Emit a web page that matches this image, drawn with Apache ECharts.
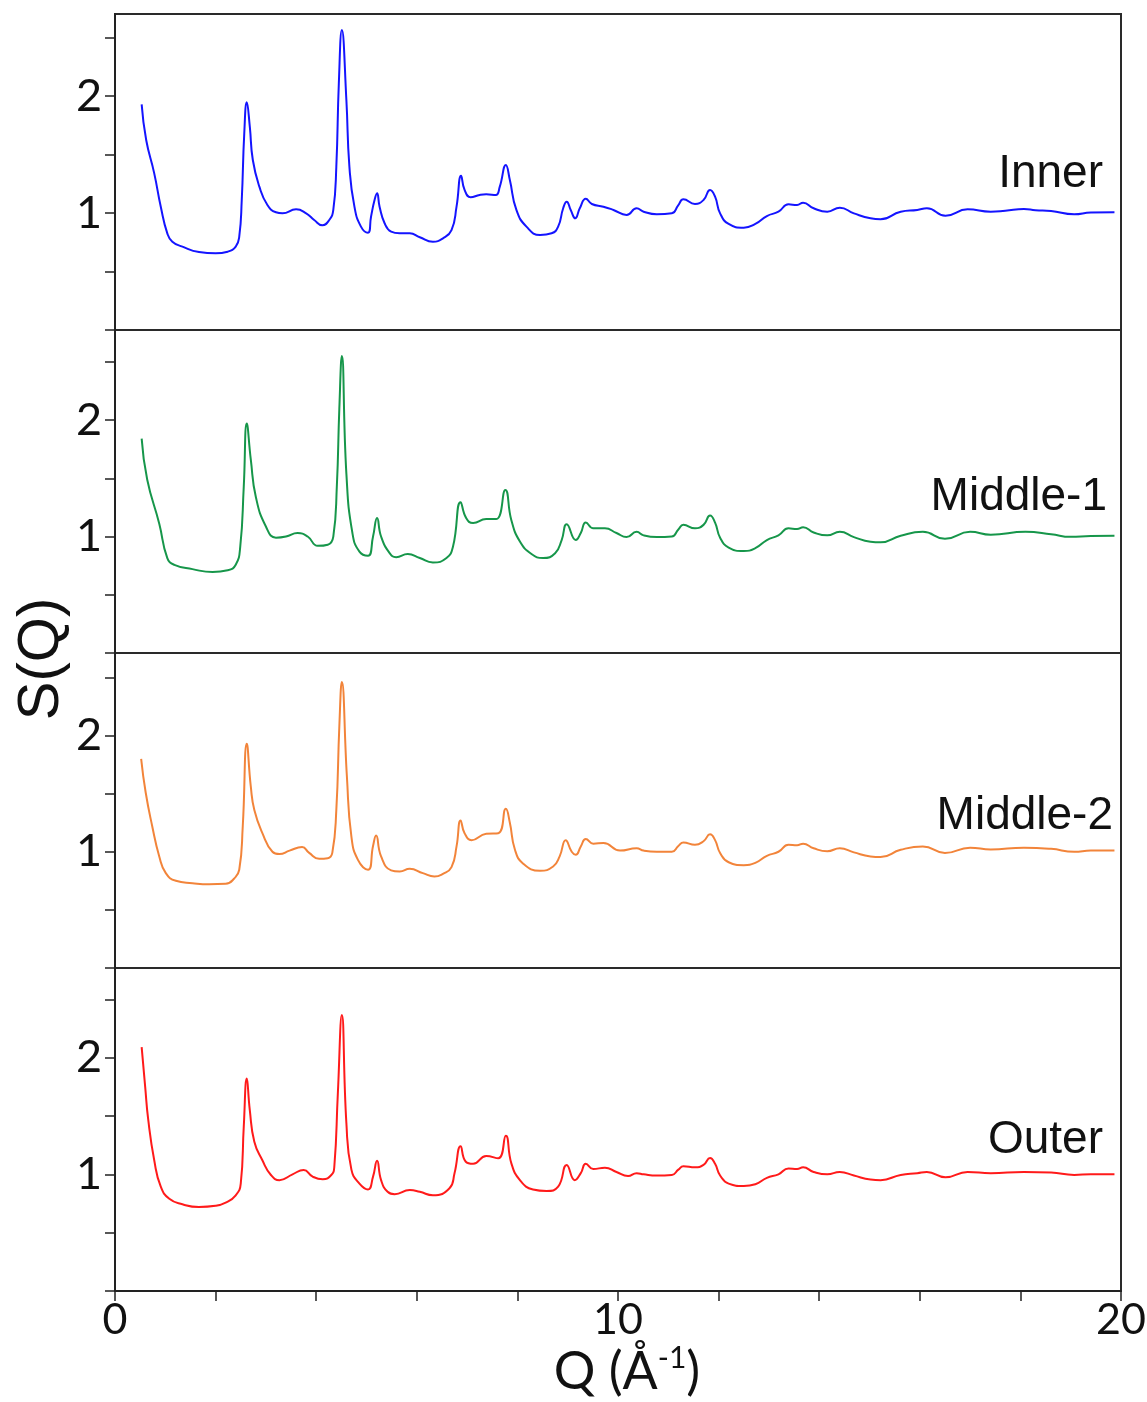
<!DOCTYPE html>
<html>
<head>
<meta charset="utf-8">
<script src="https://cdn.jsdelivr.net/npm/echarts@6/dist/echarts.min.js"></script>
<style>
html,body{margin:0;padding:0;background:#fff}
#main{width:1147px;height:1402px}
</style>
</head>
<body>
<div id="main"></div>
<script>
// S(Q), [Q, S(Q)]
var inner = [[0.53,1.93],[0.62,1.625],[0.78,1.34],[0.91,1.055],[1.04,0.827],[1.14,0.755],[1.34,0.713],[1.67,0.667],[2.0,0.656],[2.24,0.67],[2.40,0.713],[2.47,0.798],[2.52,1.112],[2.57,1.683],[2.62,1.948],[2.68,1.739],[2.74,1.454],[2.87,1.226],[3.03,1.069],[3.2,1.007],[3.33,0.998],[3.6,1.032],[3.8,0.998],[3.96,0.941],[4.12,0.896],[4.26,0.941],[4.34,1.027],[4.40,1.397],[4.45,2.11],[4.51,2.566],[4.60,1.967],[4.66,1.397],[4.76,1.055],[4.89,0.884],[5.03,0.832],[5.09,0.969],[5.16,1.112],[5.21,1.169],[5.26,1.055],[5.36,0.913],[5.49,0.841],[5.66,0.827],[5.86,0.827],[6.06,0.793],[6.32,0.755],[6.52,0.784],[6.69,0.855],[6.79,1.055],[6.88,1.32],[6.95,1.198],[7.07,1.135],[7.25,1.155],[7.38,1.161],[7.57,1.155],[7.65,1.226],[7.77,1.411],[7.85,1.283],[7.98,1.027],[8.18,0.884],[8.45,0.813],[8.68,0.827],[8.81,0.884],[8.91,1.041],[8.98,1.098],[9.06,1.027],[9.15,0.955],[9.24,1.041],[9.36,1.123],[9.48,1.078],[9.71,1.055],[9.91,1.027],[10.17,0.984],[10.37,1.041],[10.51,1.012],[10.77,0.99],[11.07,0.998],[11.2,1.069],[11.3,1.118],[11.53,1.078],[11.70,1.112],[11.83,1.198],[11.93,1.14],[12.03,0.998],[12.2,0.907],[12.5,0.875],[12.73,0.907],[12.96,0.975],[13.19,1.012],[13.39,1.075],[13.56,1.069],[13.68,1.089],[13.89,1.041],[14.16,1.012],[14.41,1.046],[14.69,0.998],[15.02,0.955],[15.22,0.947],[15.62,1.012],[15.95,1.027],[16.14,1.041],[16.51,0.978],[16.95,1.032],[17.41,1.012],[17.7,1.02],[18.07,1.035],[18.3,1.025],[18.61,1.018],[19.07,0.99],[19.4,1.005],[19.87,1.007]];

var middle1 = [[0.53,1.84],[0.64,1.49],[0.88,1.11],[1.04,0.815],[1.18,0.757],[1.54,0.72],[1.94,0.695],[2.24,0.71],[2.40,0.757],[2.49,0.914],[2.56,1.43],[2.62,1.97],[2.70,1.66],[2.80,1.34],[3.0,1.086],[3.2,0.99],[3.4,1.0],[3.63,1.03],[3.83,1.0],[4.03,0.92],[4.23,0.93],[4.34,1.0],[4.41,1.43],[4.46,2.1],[4.51,2.55],[4.60,1.54],[4.72,1.03],[4.86,0.87],[5.03,0.835],[5.13,1.0],[5.21,1.16],[5.29,1.0],[5.46,0.858],[5.59,0.823],[5.82,0.85],[6.06,0.815],[6.32,0.777],[6.59,0.815],[6.72,0.914],[6.87,1.295],[6.98,1.16],[7.12,1.115],[7.38,1.15],[7.58,1.15],[7.76,1.40],[7.88,1.14],[8.05,0.957],[8.28,0.85],[8.51,0.815],[8.75,0.857],[8.88,0.97],[8.98,1.106],[9.16,0.97],[9.26,1.03],[9.36,1.12],[9.51,1.07],[9.74,1.07],[9.97,1.03],[10.17,0.995],[10.37,1.04],[10.51,1.01],[10.77,0.995],[11.07,1.0],[11.2,1.06],[11.3,1.10],[11.53,1.07],[11.70,1.10],[11.83,1.18],[11.93,1.12],[12.03,0.99],[12.2,0.905],[12.5,0.875],[12.73,0.9],[12.96,0.97],[13.19,1.01],[13.39,1.07],[13.56,1.065],[13.68,1.08],[13.89,1.035],[14.16,1.01],[14.41,1.04],[14.69,0.995],[15.02,0.955],[15.22,0.95],[15.62,1.007],[16.06,1.04],[16.5,0.98],[17.0,1.04],[17.41,1.015],[18.1,1.04],[18.61,1.02],[19.0,0.997],[19.4,1.005],[19.87,1.006]];

var middle2 = [[0.52,1.80],[0.61,1.51],[0.74,1.22],[0.88,0.96],[1.01,0.816],[1.21,0.75],[1.54,0.73],[1.87,0.72],[2.2,0.724],[2.37,0.77],[2.47,0.845],[2.54,1.22],[2.62,1.93],[2.70,1.56],[2.77,1.36],[2.93,1.16],[3.13,1.0],[3.27,0.98],[3.47,1.01],[3.72,1.04],[3.86,0.99],[4.06,0.94],[4.23,0.945],[4.32,0.99],[4.40,1.36],[4.46,2.08],[4.51,2.46],[4.61,1.65],[4.70,1.13],[4.83,0.93],[5.03,0.845],[5.13,1.05],[5.19,1.14],[5.29,0.96],[5.49,0.84],[5.66,0.83],[5.86,0.853],[6.12,0.816],[6.35,0.787],[6.52,0.81],[6.69,0.868],[6.79,1.046],[6.87,1.27],[6.95,1.16],[7.09,1.10],[7.38,1.155],[7.62,1.16],[7.77,1.37],[7.85,1.25],[7.95,1.02],[8.11,0.90],[8.45,0.836],[8.71,0.873],[8.84,0.96],[8.96,1.10],[9.08,1.0],[9.16,0.974],[9.26,1.046],[9.36,1.11],[9.51,1.07],[9.71,1.075],[10.04,1.01],[10.37,1.03],[10.51,1.01],[10.77,1.0],[11.07,1.0],[11.2,1.05],[11.3,1.08],[11.53,1.06],[11.70,1.09],[11.83,1.15],[11.93,1.1],[12.03,0.99],[12.2,0.91],[12.5,0.885],[12.73,0.905],[12.96,0.965],[13.19,1.0],[13.39,1.06],[13.56,1.055],[13.68,1.07],[13.89,1.03],[14.16,1.005],[14.41,1.03],[14.69,0.995],[15.02,0.96],[15.22,0.955],[15.62,1.017],[16.06,1.046],[16.5,0.99],[17.0,1.035],[17.41,1.02],[18.07,1.035],[18.61,1.025],[19.07,1.0],[19.4,1.01],[19.87,1.01]];

var outer = [[0.53,2.09],[0.60,1.75],[0.66,1.47],[0.78,1.12],[0.91,0.894],[1.08,0.79],[1.34,0.743],[1.67,0.72],[2.0,0.73],[2.2,0.757],[2.40,0.82],[2.50,0.92],[2.56,1.41],[2.62,1.82],[2.68,1.55],[2.77,1.28],[2.93,1.12],[3.10,0.994],[3.27,0.95],[3.53,1.0],[3.75,1.037],[3.93,0.98],[4.13,0.957],[4.30,0.994],[4.36,1.065],[4.43,1.69],[4.51,2.365],[4.60,1.44],[4.70,1.04],[4.86,0.92],[5.03,0.87],[5.13,0.98],[5.21,1.117],[5.29,0.95],[5.42,0.85],[5.56,0.83],[5.86,0.865],[6.06,0.85],[6.32,0.82],[6.65,0.88],[6.75,1.01],[6.87,1.24],[6.97,1.11],[7.12,1.09],[7.38,1.157],[7.62,1.137],[7.77,1.33],[7.88,1.094],[8.05,0.95],[8.31,0.87],[8.58,0.857],[8.81,0.894],[8.98,1.08],[9.14,0.95],[9.26,1.01],[9.36,1.09],[9.51,1.045],[9.74,1.057],[9.97,1.02],[10.2,0.985],[10.37,1.01],[10.51,1.0],[10.77,0.99],[11.07,0.995],[11.2,1.04],[11.3,1.07],[11.53,1.06],[11.70,1.08],[11.83,1.14],[11.93,1.09],[12.03,0.99],[12.2,0.92],[12.5,0.9],[12.73,0.915],[12.96,0.97],[13.19,1.0],[13.39,1.05],[13.56,1.045],[13.68,1.06],[13.89,1.02],[14.16,1.0],[14.41,1.02],[14.69,0.99],[15.02,0.955],[15.22,0.95],[15.62,0.995],[15.95,1.01],[16.14,1.02],[16.51,0.975],[16.95,1.02],[17.41,1.01],[18.07,1.02],[18.61,1.015],[19.07,0.995],[19.4,1.0],[19.87,1.0]];

var panelNames = ['Inner', 'Middle-1', 'Middle-2', 'Outer'];
var yTicks = [0, 0.5, 1, 1.5, 2, 2.5];
var yLabels = [1, 2];
var xLabels = [0, 10, 20];

var curves = [inner, middle1, middle2, outer];
var colors = ['#1414ff', '#16964a', '#f2843a', '#ff1a1a'];
var tops = [14, 330, 653, 968];
var heights = [316, 323, 315, 323];
var yMax = [2.703, 2.773, 2.71, 2.768];
// where the panel names sit (right edge, middle)
var nameX = [1103, 1107, 1113, 1103];
var nameY = [174, 497, 816, 1140];

var axisColor = '#222';
var grids = [], xAxes = [], yAxes = [], series = [], graphics = [];

for (var i = 0; i < 4; i++) {
  grids.push({
    left: 115, right: 26, top: tops[i], height: heights[i],
    containLabel: false, outerBoundsMode: 'none',
    show: true, borderColor: '#2a2a2a', borderWidth: 2, backgroundColor: 'transparent'
  });
  var last = (i === 3);
  xAxes.push({
    type: 'value', gridIndex: i, min: 0, max: 20, interval: 2,
    show: last,
    splitLine: {show: false},
    axisLine: {show: true, onZero: false, lineStyle: {color: axisColor, width: 2}},
    axisTick: {show: true, inside: false, length: 10, lineStyle: {color: axisColor, width: 1.5}},
    axisLabel: {
      show: true, customValues: xLabels, margin: 8, hideOverlap: false,
      fontFamily: 'Lato', fontSize: 43, color: '#111'
    }
  });
  yAxes.push({
    type: 'value', gridIndex: i, min: 0, max: yMax[i],
    splitLine: {show: false},
    axisLine: {show: true, lineStyle: {color: axisColor, width: 2}},
    axisTick: {show: true, inside: false, length: 10, customValues: yTicks,
      lineStyle: {color: axisColor, width: 1.5}},
    axisLabel: {
      show: true, customValues: yLabels, margin: 13,
      fontFamily: 'Lato', fontSize: 45, color: '#111'
    }
  });
  series.push({
    type: 'line', xAxisIndex: i, yAxisIndex: i,
    data: curves[i], showSymbol: false, smooth: 0.5,
    lineStyle: {color: colors[i], width: 2}, silent: true, animation: false
  });
  graphics.push({
    type: 'text', x: nameX[i], y: nameY[i],
    style: {
      text: panelNames[i], font: '46px "Liberation Sans", Arial, sans-serif', fill: '#111',
      align: 'right', verticalAlign: 'middle', textAlign: 'right', textVerticalAlign: 'middle'
    }
  });
}

graphics.push({
  type: 'text', x: 42, y: 659, rotation: Math.PI / 2,
  style: {
    text: 'S(Q)', font: '58px "Liberation Sans", Arial, sans-serif', fill: '#111',
    align: 'center', verticalAlign: 'middle', textAlign: 'center', textVerticalAlign: 'middle'
  }
});
graphics.push({
  type: 'text', x: 627, y: 1372,
  style: {
    text: '{a|Q (Å}{b|-1}{a|)}',
    align: 'center', verticalAlign: 'middle', textAlign: 'center', textVerticalAlign: 'middle',
    fill: '#111',
    rich: {
      a: {fontFamily: 'Lato', fontSize: 52, color: '#111', lineHeight: 58},
      b: {fontFamily: 'Lato', fontSize: 30, color: '#111', verticalAlign: 'top', lineHeight: 58, padding: [0, 0, 22, 0]}
    }
  }
});

var chart = echarts.init(document.getElementById('main'), null, {renderer: 'canvas'});
chart.setOption({
  animation: false,
  backgroundColor: '#fff',
  grid: grids,
  xAxis: xAxes,
  yAxis: yAxes,
  series: series,
  graphic: graphics
});
</script>
</body>
</html>
